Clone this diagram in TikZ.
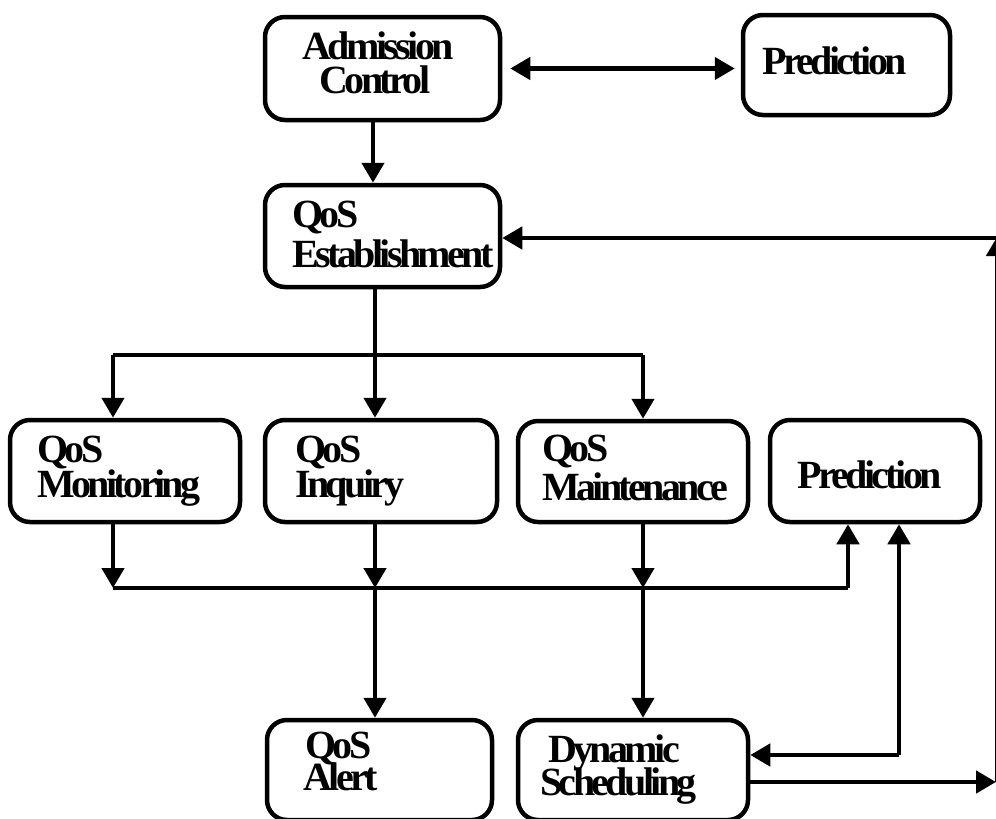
\documentclass[tikz,border=0pt]{standalone}
\usepackage{fontspec}
\usetikzlibrary{arrows.meta}
\newfontfamily\lblfont{Liberation Serif}[LetterSpace=-9]
\begin{document}
\begin{tikzpicture}[x=1pt,y=-1pt,
  box/.style={draw, line width=4.5pt, rounded corners=20pt, inner sep=0pt},
  lbl/.style={font=\lblfont\bfseries\fontsize{40}{40}\selectfont, inner sep=0pt},
  wire/.style={line width=4.5pt},
  arr/.style={line width=4.5pt, -{Triangle[length=20pt,width=22pt]}},
  arrs/.style={line width=4.5pt, {Triangle[length=20pt,width=22pt]}-{Triangle[length=20pt,width=22pt]}}]
\useasboundingbox[fill=white] (0,0) rectangle (996,819);

% boxes
\node[box, minimum width=235pt, minimum height=103pt] (ac)  at (382.5,68.5) {};
\node[box, minimum width=207pt, minimum height=100pt] (pt)  at (846.5,65)   {};
\node[box, minimum width=235pt, minimum height=102pt] (qe)  at (382.5,236)  {};
\node[box, minimum width=230pt, minimum height=102pt] (qm)  at (125,471)    {};
\node[box, minimum width=232pt, minimum height=102pt] (qi)  at (381,471)    {};
\node[box, minimum width=230pt, minimum height=101pt] (qma) at (633,471.5)  {};
\node[box, minimum width=210pt, minimum height=102pt] (pm)  at (875,471)    {};
\node[box, minimum width=225pt, minimum height=100pt] (qa)  at (379.5,770)  {};
\node[box, minimum width=230pt, minimum height=100pt] (ds)  at (633,770)    {};

% labels
\node[lbl, anchor=base] (acA) at (378,59) {Admission};
\node[lbl, anchor=base] (acB) at (375,93) {Control};
\node[lbl, anchor=base west] (ptA) at (762,74) {Prediction};
\node[lbl, anchor=base west] (qeA) at (292,227) {QoS};
\node[lbl, anchor=base west] (qeB) at (292,267) {Establishment};
\node[lbl, anchor=base west] (qmA) at (37,462) {QoS};
\node[lbl, anchor=base west] (qmB) at (37,497) {Monitoring};
\node[lbl, anchor=base west] (qiA) at (295,462) {QoS};
\node[lbl, anchor=base west] (qiB) at (295,497) {Inquiry};
\node[lbl, anchor=base west] (qmaA) at (542,461) {QoS};
\node[lbl, anchor=base west] (qmaB) at (542,500) {Maintenance};
\node[lbl, anchor=base west] (pmA) at (797,488) {Prediction};
\node[lbl, anchor=base west] (qaA) at (305,758) {QoS};
\node[lbl, anchor=base west] (qaB) at (303,790) {Alert};
\node[lbl, anchor=base west] (dsA) at (548,762) {Dynamic};
\node[lbl, anchor=base west] (dsB) at (540,795) {Scheduling};

% junction points
\coordinate (split) at (375,355);
\coordinate (hL) at (113,355);
\coordinate (hR) at (643,355);
\coordinate (mL) at (113,588);
\coordinate (mC) at (375,588);
\coordinate (mD) at (643,588);
\coordinate (mR) at (848,588);
\coordinate (fb) at (899,755);
\coordinate (eB) at (997.5,782);
\coordinate (eT) at (997.5,238);

% top row
\draw[arrs] ([xshift=8pt]ac.east) -- ([xshift=-6pt]pt.west |- ac.east);
\draw[arr] ([xshift=-9.5pt]ac.south) -- ([xshift=-9.5pt]qe.north);

% fan-out from establishment
\draw[wire] (qe.south -| split) -- (split);
\draw[wire] (hL) -- (hR);
\draw[arr] (hL) -- (hL |- qm.north);
\draw[arr] (split) -- (split |- qi.north);
\draw[arr] (hR) -- (hR |- qma.north);

% collect into the middle bus
\draw[arr] (mL |- qm.south) -- (mL);
\draw[arr] (mC |- qi.south) -- (mC);
\draw[arr] (mD |- qma.south) -- (mD);
\draw[wire] (mL) -- (mR);
\draw[arr] (mR) -- (mR |- pm.south);

% bottom row
\draw[arr] (mC) -- (mC |- qa.north);
\draw[arr] (mD) -- (mD |- ds.north);
\draw[arr] (fb) -- (fb |- pm.south);
\draw[arr] (fb) -- (fb -| ds.east);

% feedback loop along the right edge
\draw[arr] (ds.east |- eB) -- ([xshift=-1.5pt]eB);
\draw[arr] (eB) -- ([yshift=2pt]eT);
\draw[arr] (eT) -- (eT -| qe.east);
\end{tikzpicture}
\end{document}
